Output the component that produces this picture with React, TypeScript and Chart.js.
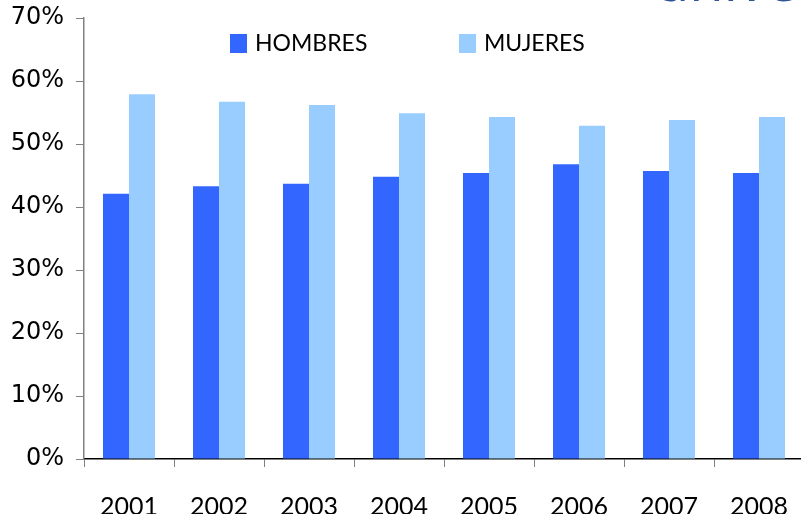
import React, { useEffect, useRef } from "react";
import { Chart, registerables } from "chart.js";

Chart.register(...registerables);

const years = ["2001", "2002", "2003", "2004", "2005", "2006", "2007", "2008"];
const hombres = [42.1, 43.3, 43.7, 44.8, 45.4, 46.8, 45.7, 45.4];
const mujeres = [57.9, 56.7, 56.2, 54.9, 54.3, 52.9, 53.8, 54.3];
const yTicks = [0, 10, 20, 30, 40, 50, 60, 70];
const seriesNames = ["HOMBRES", "MUJERES"];
const seriesColors = ["#3366FF", "#99CCFF"];

const legendPlugin = {
  id: "customLegend",
  afterDraw(chart: any) {
    const ctx = chart.ctx;
    const positions = [230, 459];
    ctx.save();
    ctx.font = "23px Lato";
    ctx.textBaseline = "middle";
    chart.data.datasets.forEach((ds: any, i: number) => {
      const x = positions[i];
      ctx.fillStyle = ds.backgroundColor;
      ctx.fillRect(x, 34, 17, 19);
      ctx.fillStyle = "#000";
      ctx.fillText(ds.label, x + 25, 44);
    });
    ctx.restore();
  },
};

export default function App() {
  const ref = useRef<HTMLCanvasElement>(null);
  useEffect(() => {
    if (!ref.current) return;
    const chart = new Chart(ref.current, {
      type: "bar",
      data: {
        labels: years,
        datasets: [
          { label: seriesNames[0], data: hombres, backgroundColor: seriesColors[0] },
          { label: seriesNames[1], data: mujeres, backgroundColor: seriesColors[1] },
        ],
      },
      options: {
        responsive: false,
        animation: false,
        devicePixelRatio: 1,
        layout: { padding: { top: 18, right: 2, left: 0, bottom: 0 } },
        datasets: { bar: { barPercentage: 1, categoryPercentage: 0.578 } } as any,
        plugins: { legend: { display: false }, tooltip: { enabled: false } },
        scales: {
          x: {
            grid: {
              display: true,
              drawOnChartArea: false,
              offset: true,
              tickLength: 8,
              color: "#808080",
            },
            border: { display: true, color: "#000000", width: 1.5 },
            ticks: { font: { family: "Lato", size: 25 }, color: "#000", padding: 25, maxRotation: 0 },
            afterFit(scale: any) {
              scale.height = 55;
              scale.paddingLeft = 0;
              scale.paddingRight = 0;
            },
          },
          y: {
            min: 0,
            max: 70,
            afterBuildTicks(scale: any) {
              scale.ticks = yTicks.map((v) => ({ value: v }));
            },
            grid: { display: true, drawOnChartArea: false, tickLength: 8, color: "#808080" },
            border: { display: true, color: "#808080", width: 1.5 },
            ticks: {
              font: { family: "DejaVu Sans", size: 24 },
              color: "#000",
              padding: 12,
              callback: (v: any) => v + "%",
            },
            afterFit(scale: any) {
              scale.width = 84;
              scale.paddingTop = 0;
              scale.paddingBottom = 0;
            },
          },
        },
      },
      plugins: [legendPlugin],
    });
    return () => chart.destroy();
  }, []);
  return (
    <div
      style={{
        position: "fixed",
        left: 0,
        top: 0,
        width: 801,
        height: 514,
        overflow: "hidden",
        background: "#fff",
      }}
    >
      <canvas ref={ref} width={806} height={514} style={{ width: 806, height: 514, display: "block" }} />
      <div
        style={{
          position: "absolute",
          left: 655,
          top: -49,
          fontFamily: "Open Sans",
          fontSize: 56,
          lineHeight: "56px",
          color: "#2F5496",
          whiteSpace: "nowrap",
        }}
      >
        universidad
      </div>
    </div>
  );
}
